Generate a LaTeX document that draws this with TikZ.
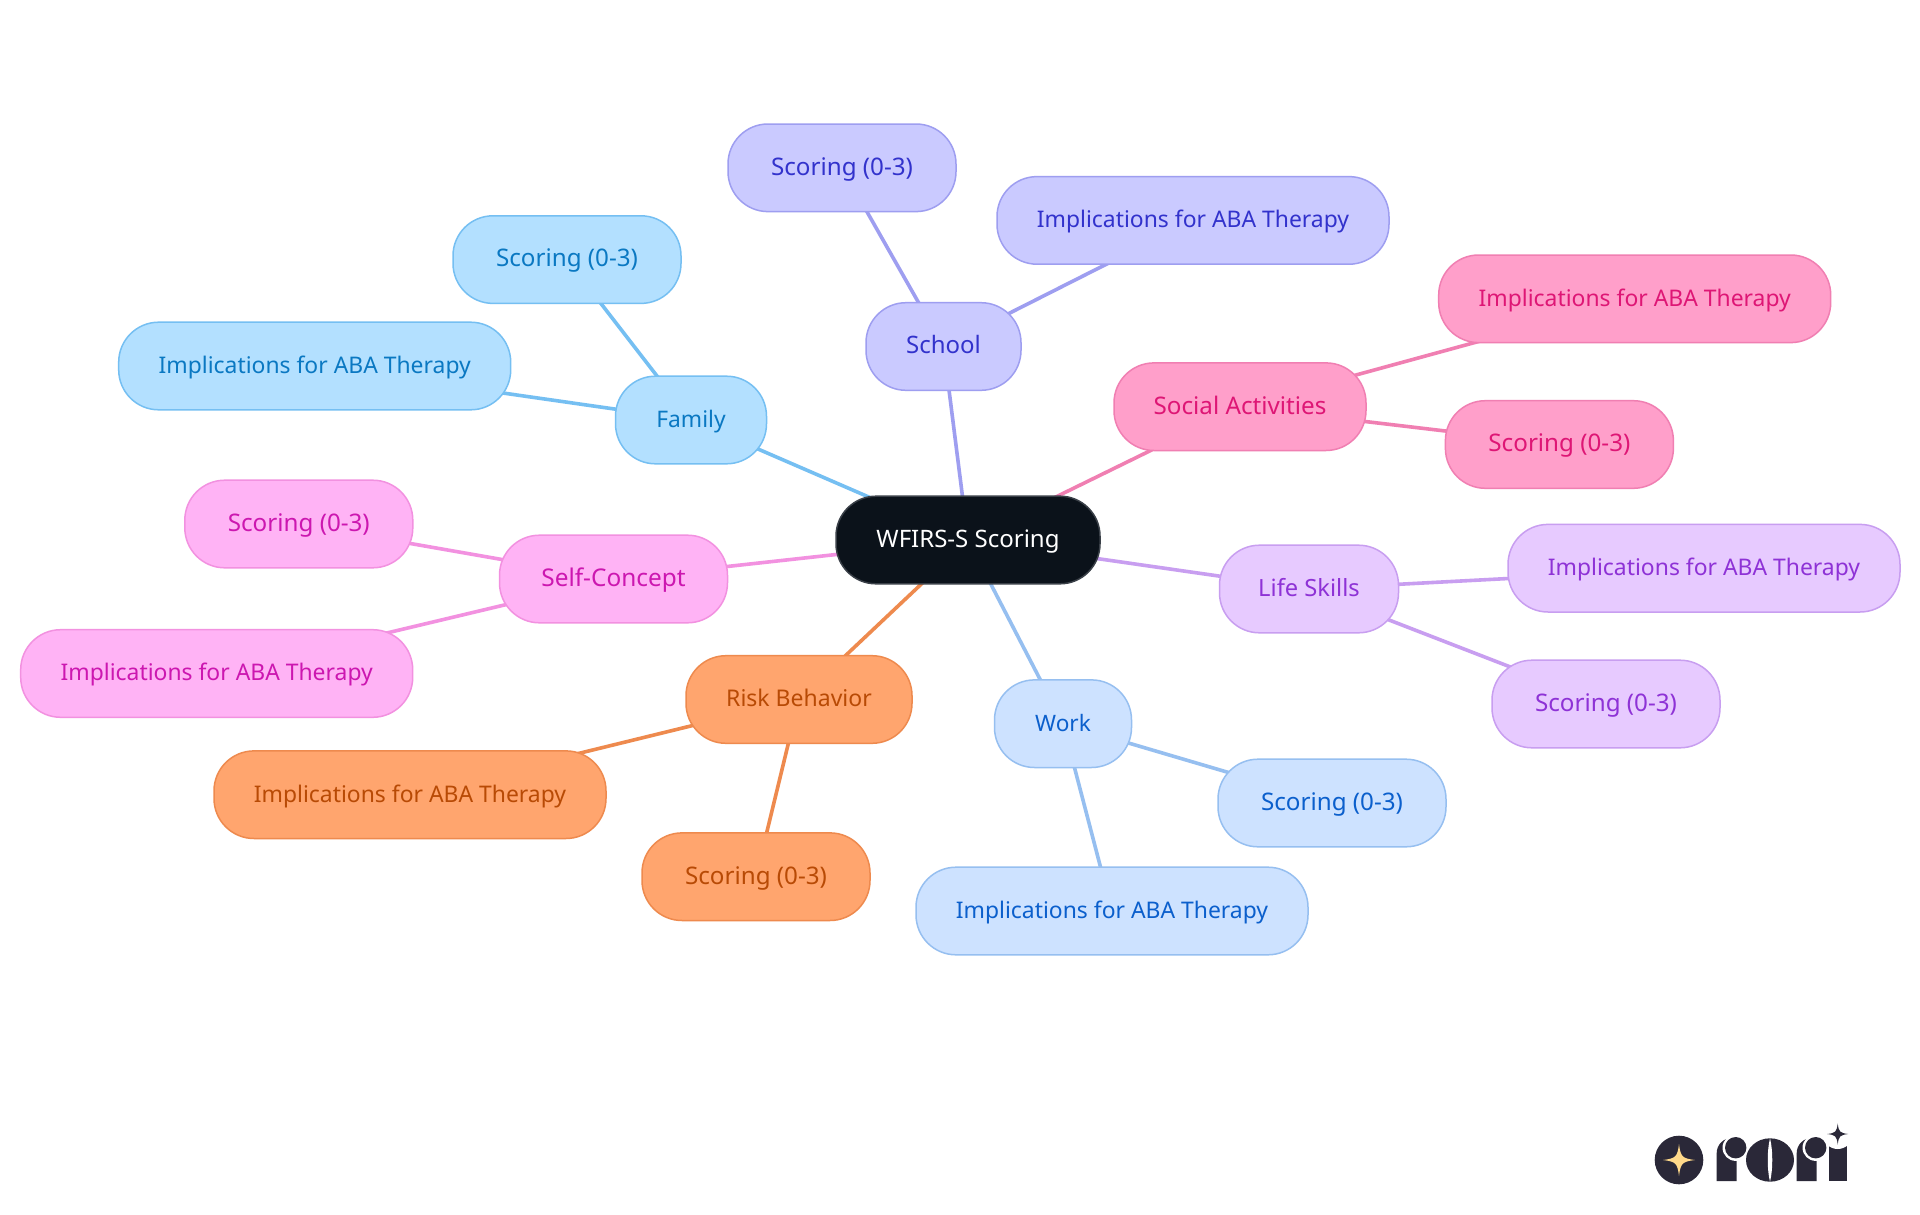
\documentclass[tikz,border=0pt]{standalone}
\usepackage{fontspec}
\setmainfont{Noto Sans}
\usetikzlibrary{backgrounds}
\definecolor{famF}{HTML}{B3E0FF}\definecolor{famD}{HTML}{75BFF2}\definecolor{famT}{HTML}{0A78C2}
\definecolor{schF}{HTML}{CACAFF}\definecolor{schD}{HTML}{9E9EF0}\definecolor{schT}{HTML}{3232CC}
\definecolor{socF}{HTML}{FF9FCA}\definecolor{socD}{HTML}{F07FB2}\definecolor{socT}{HTML}{DE1675}
\definecolor{lifF}{HTML}{E7CAFF}\definecolor{lifD}{HTML}{C89EF0}\definecolor{lifT}{HTML}{8E32D6}
\definecolor{worF}{HTML}{CDE2FF}\definecolor{worD}{HTML}{96BFF0}\definecolor{worT}{HTML}{0B5FCC}
\definecolor{rskF}{HTML}{FFA56E}\definecolor{rskD}{HTML}{EE8A4E}\definecolor{rskT}{HTML}{B84A05}
\definecolor{slfF}{HTML}{FFB3F5}\definecolor{slfD}{HTML}{F291E0}\definecolor{slfT}{HTML}{CC17B0}
\definecolor{rootF}{HTML}{0B121A}\definecolor{rootD}{HTML}{3A4048}
\definecolor{logoD}{HTML}{2A2838}\definecolor{logoG}{HTML}{FFD98A}
\tikzset{
  fs/.style={font=\fontsize{#1pt}{26pt}\selectfont},
  box/.style={rounded corners=40pt,minimum height=87.6pt,inner sep=0pt,line width=1.5pt,
    fs=23,text height=18pt,text depth=3.4pt,align=center},
  scorebox/.style={box,minimum width=228pt,fs=24.2},
  implbox/.style={box,minimum width=392pt,fs=22.9},
  fam/.style={fill=famF,draw=famD,text=famT},
  sch/.style={fill=schF,draw=schD,text=schT},
  soc/.style={fill=socF,draw=socD,text=socT},
  lif/.style={fill=lifF,draw=lifD,text=lifT},
  wor/.style={fill=worF,draw=worD,text=worT},
  rsk/.style={fill=rskF,draw=rskD,text=rskT},
  slf/.style={fill=slfF,draw=slfD,text=slfT},
  link/.style={line width=3.6pt},
  logostar/.pic={\fill (-1,0) .. controls (-0.2,-0.1) and (-0.1,-0.2) .. (0,-1) .. controls (0.1,-0.2) and (0.2,-0.1) .. (1,0) .. controls (0.2,0.1) and (0.1,0.2) .. (0,1) .. controls (-0.1,0.2) and (-0.2,0.1) .. (-1,0) -- cycle;},
}
\begin{document}
\begin{tikzpicture}[x=1pt,y=-1pt]
\useasboundingbox (0,0) rectangle (1920,1215);
\node[box,fs=24,minimum width=264pt,fill=rootF,draw=rootD,text=white] (root) at (968,540) {WFIRS-S Scoring};
\node[box,fam,fs=22.8,minimum width=151pt] (family) at (691,420) {Family};
\node[box,sch,fs=24,minimum width=155pt] (school) at (943.5,346.5) {School};
\node[box,soc,fs=24.2,minimum width=252pt] (social) at (1240,406.7) {Social Activities};
\node[box,lif,fs=23.7,minimum width=179pt] (life) at (1309,589) {Life Skills};
\node[box,wor,fs=22.6,minimum width=137pt] (work) at (1063,723.7) {Work};
\node[box,rsk,fs=23,minimum width=226pt] (risk) at (799,699.5) {Risk Behavior};
\node[box,slf,fs=24.4,minimum width=228pt] (self) at (613.5,579) {Self-Concept};
\node[scorebox,fam] (famS) at (567,259.6) {Scoring (0-3)};
\node[implbox,fam] (famI) at (314.7,366) {Implications for ABA Therapy};
\node[scorebox,sch] (schS) at (842,167.8) {Scoring (0-3)};
\node[implbox,sch] (schI) at (1193,220.4) {Implications for ABA Therapy};
\node[implbox,soc] (socI) at (1634.7,298.8) {Implications for ABA Therapy};
\node[scorebox,soc] (socS) at (1559.4,444.5) {Scoring (0-3)};
\node[implbox,lif] (lifI) at (1704,568.2) {Implications for ABA Therapy};
\node[scorebox,lif] (lifS) at (1606,704) {Scoring (0-3)};
\node[scorebox,wor] (worS) at (1332,803) {Scoring (0-3)};
\node[implbox,wor] (worI) at (1112,911) {Implications for ABA Therapy};
\node[implbox,rsk] (rskI) at (410,794.7) {Implications for ABA Therapy};
\node[scorebox,rsk] (rskS) at (756,876.7) {Scoring (0-3)};
\node[scorebox,slf] (slfS) at (298.8,524) {Scoring (0-3)};
\node[implbox,slf] (slfI) at (216.7,673.5) {Implications for ABA Therapy};
\begin{scope}[on background layer]
\fill[white] (0,0) rectangle (1920,1215);
\draw[link,famD] (root.center) -- (family.center);
\draw[link,famD] (family.center) -- (famS.center);
\draw[link,famD] (family.center) -- (famI.center);
\draw[link,schD] (root.center) -- (school.center);
\draw[link,schD] (school.center) -- (schS.center);
\draw[link,schD] (school.center) -- (schI.center);
\draw[link,socD] (root.center) -- (social.center);
\draw[link,socD] (social.center) -- (socI.center);
\draw[link,socD] (social.center) -- (socS.center);
\draw[link,lifD] (root.center) -- (life.center);
\draw[link,lifD] (life.center) -- (lifI.center);
\draw[link,lifD] (life.center) -- (lifS.center);
\draw[link,worD] (root.center) -- (work.center);
\draw[link,worD] (work.center) -- (worS.center);
\draw[link,worD] (work.center) -- (worI.center);
\draw[link,rskD] (root.center) -- (risk.center);
\draw[link,rskD] (risk.center) -- (rskI.center);
\draw[link,rskD] (risk.center) -- (rskS.center);
\draw[link,slfD] (root.center) -- (self.center);
\draw[link,slfD] (self.center) -- (slfS.center);
\draw[link,slfD] (self.center) -- (slfI.center);
\end{scope}
% logo
\coordinate (starA) at (1679,1160);
\coordinate (starB) at (1837.7,1134);
\fill[logoD] (starA) circle (24.3pt);
\pic[logoG,x=16pt,y=16pt] at (starA) {logostar};
\fill[logoD] (1716.7,1181) -- (1716.7,1153) .. controls (1716.7,1145) and (1723,1138) .. (1732,1138) -- (1736.7,1138) -- (1736.7,1181) -- cycle;
\fill[white] (1735.7,1147.7) circle (13.2pt);
\fill[logoD] (1735.7,1147.7) circle (10.7pt);
\fill[logoD] (1770,1160) ellipse (24pt and 21.7pt);
\fill[white] (1770,1138.3) .. controls (1767,1150) and (1767,1170) .. (1770,1181.7) .. controls (1773,1170) and (1773,1150) .. (1770,1138.3) -- cycle;
\fill[logoD] (1796.7,1181) -- (1796.7,1153) .. controls (1796.7,1145) and (1803,1138) .. (1812,1138) -- (1816.7,1138) -- (1816.7,1181) -- cycle;
\fill[white] (1815.7,1147.7) circle (13.2pt);
\fill[logoD] (1815.7,1147.7) circle (10.7pt);
\fill[logoD] (1829,1181) rectangle (1846.7,1146);
\fill[white] (starB) circle (15pt);
\pic[logoD,x=10.5pt,y=10.5pt] at (starB) {logostar};
\end{tikzpicture}
\end{document}
